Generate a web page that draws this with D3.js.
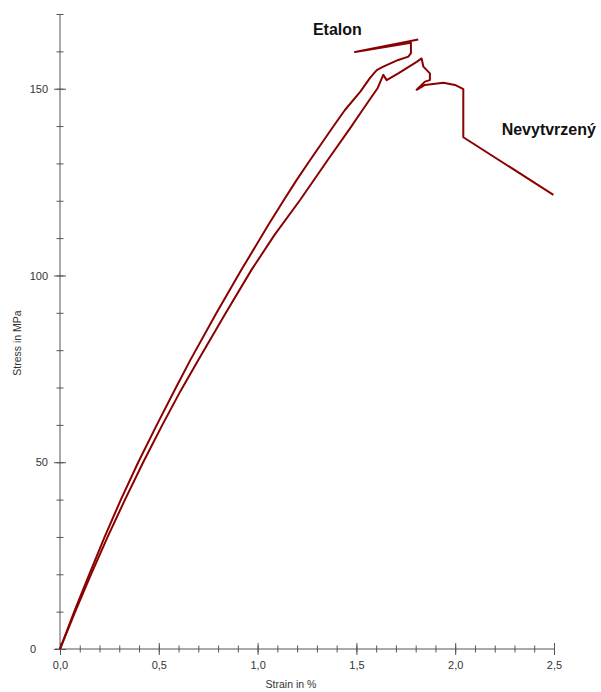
<!DOCTYPE html>
<html>
<head>
<meta charset="utf-8">
<script src="https://cdn.jsdelivr.net/npm/d3@7"></script>
<style>
  html, body { margin: 0; padding: 0; background: #fff; }
  svg { display: block; }
  text { font-family: "Liberation Sans", Arial, sans-serif; }
</style>
</head>
<body>
<svg id="chart" width="601" height="692"></svg>
<script>
// Stress–strain curves (strain in %, stress in MPa)
const etalonStrain = [0, 0.072, 0.148, 0.226, 0.308, 0.396, 0.490, 0.587, 0.660, 0.791, 0.918, 1.054, 1.133, 1.198, 1.266, 1.382, 1.442, 1.520, 1.569, 1.603, 1.636, 1.712, 1.763, 1.776, 1.776, 1.493, 1.813];
const etalonStress = [0, 10, 20, 30, 40, 50, 60, 70, 77.4, 89.9, 101.5, 113.5, 120.2, 125.6, 130.9, 139.8, 144.3, 149.2, 152.9, 155.0, 155.9, 157.7, 158.6, 159.5, 162.3, 159.8, 163.2];

const nevStrain = [0, 0.077, 0.157, 0.241, 0.329, 0.421, 0.518, 0.608, 0.700, 0.838, 0.969, 1.085, 1.215, 1.355, 1.473, 1.531, 1.578, 1.608, 1.636, 1.653, 1.712, 1.805, 1.830, 1.839, 1.872, 1.872, 1.847, 1.805, 1.847, 1.940, 1.999, 2.034, 2.041, 2.041, 2.497];
const nevStress = [0, 10, 20, 30, 40, 50, 60, 68.9, 77.4, 89.9, 101.5, 110.8, 120.2, 130.9, 139.8, 144.3, 147.9, 150.2, 153.7, 152.3, 154.1, 157.2, 158.1, 155.9, 154.1, 152.3, 151.9, 149.7, 151.0, 151.6, 151.0, 150.1, 149.9, 137.0, 121.6];

// Axis ticks
const xMajorTicks = [0, 0.5, 1.0, 1.5, 2.0, 2.5];
const xMinorTicks = d3.range(0, 26).map(i => i / 10);
const yMajorTicks = [0, 50, 100, 150];
const yMinorTicks = d3.range(0, 18).map(i => i * 10);

const curveLabels = [
  { name: "Etalon", strain: 1.28, stress: 164.5 },
  { name: "Nevytvrzený", strain: 2.235, stress: 137.5 }
];

const svg = d3.select("#chart");
const x = d3.scaleLinear().domain([0, 2.5]).range([60, 554]);
const y = d3.scaleLinear().domain([0, 170]).range([649, 14]);

const axisColor = "#555";
const fmt = d3.format(".1f");
const fmtComma = v => fmt(v).replace(".", ",");

// X axis
const gx = svg.append("g").attr("transform", `translate(0,${y(0)})`);
gx.append("line").attr("x1", 55).attr("x2", x(2.5)).attr("stroke", axisColor);
gx.call(d3.axisBottom(x).tickValues(xMinorTicks).tickFormat("").tickSizeOuter(0))
  .call(g => g.select(".domain").remove())
  .call(g => g.selectAll(".tick line").attr("y1", -3.5).attr("y2", 3.5).attr("stroke", axisColor));
svg.append("g").attr("transform", `translate(0,${y(0)})`)
  .call(d3.axisBottom(x).tickValues(xMajorTicks).tickFormat(fmtComma).tickSizeOuter(0))
  .call(g => g.select(".domain").remove())
  .call(g => g.selectAll(".tick line").attr("y1", -6).attr("y2", 6).attr("stroke", axisColor))
  .call(g => g.selectAll(".tick text").attr("y", 12).attr("font-size", 11)
    .attr("fill", "#333").attr("font-family", "Liberation Sans, Arial, sans-serif"));

// Y axis
const gy = svg.append("g").attr("transform", `translate(${x(0)},0)`);
gy.append("line").attr("y1", y(170)).attr("y2", y(0)).attr("stroke", axisColor);
gy.call(d3.axisLeft(y).tickValues(yMinorTicks).tickFormat("").tickSizeOuter(0))
  .call(g => g.select(".domain").remove())
  .call(g => g.selectAll(".tick line").attr("x1", -3.5).attr("x2", 3.5).attr("stroke", axisColor));
svg.append("g").attr("transform", `translate(${x(0)},0)`)
  .call(d3.axisLeft(y).tickValues(yMajorTicks).tickFormat(d3.format("d")).tickSizeOuter(0))
  .call(g => g.select(".domain").remove())
  .call(g => g.selectAll(".tick line").attr("x1", -6).attr("x2", 6).attr("stroke", axisColor))
  .call(g => g.selectAll(".tick text").attr("x", -12).attr("font-size", 11)
    .attr("fill", "#333").attr("font-family", "Liberation Sans, Arial, sans-serif"))
  .call(g => g.selectAll(".tick").filter(d => d === 0).select("text").attr("x", -24));

// Axis titles
svg.append("text").attr("x", 291).attr("y", 688).attr("text-anchor", "middle")
  .attr("font-size", 10.5).attr("fill", "#333").text("Strain in %");
svg.append("text").attr("transform", `translate(21,343) rotate(-90)`).attr("text-anchor", "middle")
  .attr("font-size", 10.5).attr("fill", "#333").text("Stress in MPa");

// Curves
const line = d3.line().x(d => x(d[0])).y(d => y(d[1]));
const series = [
  d3.zip(etalonStrain, etalonStress),
  d3.zip(nevStrain, nevStress)
];
svg.append("g").selectAll("path").data(series).join("path")
  .attr("d", line)
  .attr("fill", "none")
  .attr("stroke", "#8b0000")
  .attr("stroke-width", 2)
  .attr("stroke-linejoin", "round");

// Curve labels
svg.append("g").selectAll("text").data(curveLabels).join("text")
  .attr("x", d => x(d.strain)).attr("y", d => y(d.stress))
  .attr("font-size", 16).attr("font-weight", "bold").attr("fill", "#111")
  .text(d => d.name);
</script>
</body>
</html>
